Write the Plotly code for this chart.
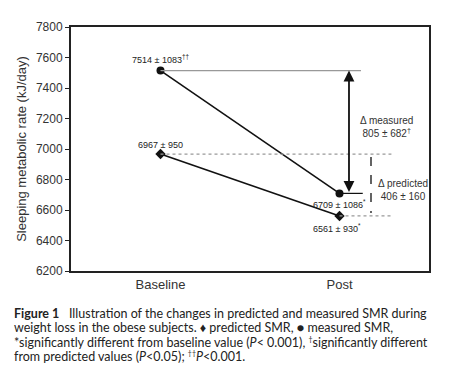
import plotly.graph_objects as go

categories = ["Baseline", "Post"]
predicted = [6967, 6561]
measured = [7514, 6709]
predicted_labels = ["6967 ± 950", "6561 ± 930<sup>*</sup>"]
measured_labels = ["7514 ± 1083<sup>††</sup>", "6709 ± 1086<sup>*</sup>"]
delta_measured_label = "Δ measured<br>805 ± 682<sup>†</sup>"
delta_predicted_label = "Δ predicted<br>406 ± 160"
y_ticks = [6200, 6400, 6600, 6800, 7000, 7200, 7400, 7600, 7800]
caption_lines = [
    "<b>Figure 1</b>   Illustration of the changes in predicted and measured SMR during",
    "weight loss in the obese subjects. ♦ predicted SMR, ● measured SMR,",
    "*significantly different from baseline value (<i>P</i>&lt; 0.001), "
    "<sup><span style='font-size:7px'>†</span></sup>significantly different",
    "from predicted values (<i>P</i>&lt;0.05); "
    "<sup><span style='font-size:7px'>††</span></sup><i>P</i>&lt;0.001.",
]

xs = [0, 1]
fig = go.Figure()
fig.add_trace(go.Scatter(x=xs, y=measured, mode="lines+markers",
                         line=dict(color="#111", width=1.6),
                         marker=dict(symbol="circle", size=8, color="#111"),
                         showlegend=False, hoverinfo="skip"))
fig.add_trace(go.Scatter(x=xs, y=predicted, mode="lines+markers",
                         line=dict(color="#111", width=1.6),
                         marker=dict(symbol="diamond", size=8, color="#111"),
                         showlegend=False, hoverinfo="skip"))

# reference horizontal lines
fig.add_shape(type="line", x0=xs[0], x1=1.12, y0=measured[0], y1=measured[0],
              line=dict(color="#999", width=1.2))
fig.add_shape(type="line", x0=xs[0], x1=1.29, y0=predicted[0], y1=predicted[0],
              line=dict(color="#999", width=1.2, dash="dot"))
fig.add_shape(type="line", x0=xs[1], x1=1.13, y0=measured[1], y1=measured[1],
              line=dict(color="#111", width=1.2))
fig.add_shape(type="line", x0=xs[1], x1=1.29, y0=predicted[1], y1=predicted[1],
              line=dict(color="#999", width=1.2, dash="dot"))

# measured double arrow
fig.add_annotation(x=1.053, y=measured[0], ax=1.053, ay=measured[1],
                   xref="x", yref="y", axref="x", ayref="y", text="",
                   showarrow=True, arrowhead=2, arrowside="end+start",
                   arrowsize=1.2, arrowwidth=1.8, arrowcolor="#111")
# predicted dashed arrow
fig.add_shape(type="line", x0=1.176, x1=1.176, y0=predicted[0] - 20, y1=predicted[1] + 20,
              line=dict(color="#111", width=1.3, dash="dash"))
fig.add_annotation(x=1.176, y=predicted[0], ax=1.176, ay=predicted[0] - 15,
                   xref="x", yref="y", axref="x", ayref="y", text="",
                   showarrow=True, arrowhead=2, arrowsize=1.2, arrowwidth=1.3, arrowcolor="#111")
fig.add_annotation(x=1.176, y=predicted[1], ax=1.176, ay=predicted[1] + 15,
                   xref="x", yref="y", axref="x", ayref="y", text="",
                   showarrow=True, arrowhead=2, arrowsize=1.2, arrowwidth=1.3, arrowcolor="#111")

lab_font = dict(family="Liberation Sans, Arial", size=9, color="#222")
fig.add_annotation(x=xs[0], y=measured[0], text=measured_labels[0], showarrow=False,
                   yshift=12, font=lab_font)
fig.add_annotation(x=xs[0], y=predicted[0], text=predicted_labels[0], showarrow=False,
                   yshift=9, font=lab_font)
fig.add_annotation(x=xs[1], y=measured[1], text=measured_labels[1], showarrow=False,
                   yshift=-11, font=lab_font)
fig.add_annotation(x=xs[1], y=predicted[1], text=predicted_labels[1], showarrow=False,
                   yshift=-12, xshift=-3, font=lab_font)

dfont = dict(family="Liberation Sans, Arial", size=10, color="#333")
fig.add_annotation(x=1.265, y=7145, text=delta_measured_label, showarrow=False, font=dfont)
fig.add_annotation(x=1.355, y=6733, text=delta_predicted_label, showarrow=False, font=dfont)

for i, line in enumerate(caption_lines):
    fig.add_annotation(xref="paper", yref="paper", x=(12 - 71) / 358,
                       y=(271 - (314 + i * 14.7)) / 248,
                       xanchor="left", yanchor="middle", text=line, showarrow=False,
                       font=dict(family="Lato, Noto Sans", size=12.5, color="#222"))

fig.update_layout(
    width=441, height=373,
    margin=dict(l=63, r=20, t=15, b=110),
    paper_bgcolor="white", plot_bgcolor="white",
    xaxis=dict(range=[-0.5, 1.5], tickvals=xs, ticktext=categories,
               showgrid=False, zeroline=False, showline=True, mirror=True,
               linecolor="#222", linewidth=2, ticks="",
               tickfont=dict(family="Liberation Sans, Arial", size=13, color="#333")),
    yaxis=dict(range=[6200, 7800], tickvals=y_ticks, showgrid=False, zeroline=False,
               showline=True, mirror=True, linecolor="#222", linewidth=2,
               ticks="outside", ticklen=4, tickcolor="#222",
               title=dict(text="Sleeping metabolic rate (kJ/day)", standoff=6,
                          font=dict(family="Liberation Sans, Arial", size=13, color="#333")),
               tickfont=dict(family="Liberation Sans, Arial", size=12, color="#333")),
)
fig.write_html("out.html")
